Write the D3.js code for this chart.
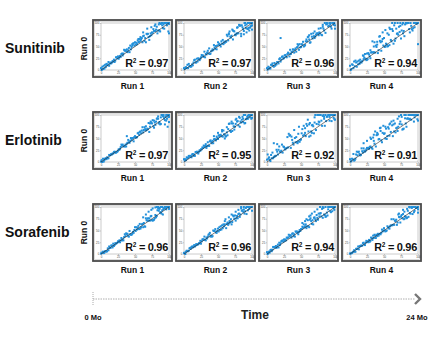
<!DOCTYPE html>
<html>
<head>
<meta charset="utf-8">
<script src="https://cdn.jsdelivr.net/npm/d3@7"></script>
<style>
  body { margin: 0; background: #fff; }
  svg { font-family: "Liberation Sans", Arial, sans-serif; }
</style>
</head>
<body>
<svg id="chart" width="435" height="340"></svg>
<script>
// Run-to-run reproducibility, three drugs x four repeat runs, each against Run 0

var drugs = ["Sunitinib", "Erlotinib", "Sorafenib"];
var runs = ["Run 1", "Run 2", "Run 3", "Run 4"];
var refRun = "Run 0";
var axisTicks = [0, 25, 50, 75, 100];
var timeLabels = [{ t: 0, label: "0 Mo" }, { t: 24, label: "24 Mo" }];
var timeTitle = "Time";

var r2Sunitinib = [0.97, 0.97, 0.96, 0.94];
var r2Erlotinib = [0.97, 0.95, 0.92, 0.91];
var r2Sorafenib = [0.96, 0.96, 0.94, 0.96];

// [run N value, run 0 value]
var sunitinibRun1 = [[0,4],[1,0],[2,7],[3,2],[4,9],[5,3],[6,11],[7,6],[8,13],[9,10],[10,12],[11,17],[12,9],[13,14],[14,16],[15,14],[16,16],[17,19],[18,18],[19,22],[20,17],[21,20],[22,27],[23,27],[24,25],[25,29],[26,24],[27,27],[28,30],[29,28],
  [30,34],[31,35],[32,31],[33,35],[34,43],[35,41],[36,42],[37,40],[38,44],[39,38],[40,42],[41,47],[42,38],[43,52],[44,44],[45,49],[46,55],[47,56],[48,57],[49,52],[50,59],[51,54],[52,58],[53,55],[54,63],[55,59],[56,60],[57,66],[58,62],[59,65],
  [60,68],[61,59],[62,72],[63,73],[64,62],[65,68],[66,59],[67,77],[68,76],[69,77],[70,70],[71,64],[72,72],[73,78],[74,74],[75,80],[76,79],[77,87],[78,83],[79,94],[80,83],[81,86],[82,92],[83,78],[84,84],[85,97],[86,84],[87,82],[88,98],[89,100],[90,95],[91,89],[92,97],[93,88],[94,100],[95,100],[96,99],[97,95],[98,100],[99,100],[100,98],
  [55,66],[62,80],[68,88],[74,91],[80,97],[86,100],[91,100],[97,100],[100,100],[99,82],[100,78],[46,52],[58,70]];
var sunitinibRun2 = [[0,4],[1,2],[2,5],[3,6],[4,4],[5,11],[6,4],[7,13],[8,8],[9,8],[10,7],[11,8],[12,12],[13,10],[14,16],[15,21],[16,22],[17,16],[18,16],[19,24],[20,18],[21,25],[22,23],[23,21],[24,24],[25,27],[26,32],[27,30],[28,31],[29,28],
  [30,39],[31,27],[32,34],[33,33],[34,37],[35,41],[36,35],[37,46],[38,34],[39,35],[40,40],[41,41],[42,44],[43,42],[44,53],[45,48],[46,45],[47,51],[48,44],[49,52],[50,59],[51,54],[52,56],[53,53],[54,50],[55,61],[56,56],[57,64],[58,55],[59,59],
  [60,58],[61,61],[62,60],[63,75],[64,72],[65,63],[66,76],[67,82],[68,71],[69,69],[70,73],[71,86],[72,65],[73,83],[74,82],[75,75],[76,74],[77,77],[78,78],[79,91],[80,78],[81,96],[82,94],[83,95],[84,77],[85,95],[86,91],[87,87],[88,83],[89,100],[90,95],[91,89],[92,97],[93,88],[94,87],[95,90],[96,100],[97,90],[98,93],[99,94],[100,100],
  [84,72],[88,76],[92,80],[96,84],[100,86],[98,100],[94,100],[90,100],[72,84],[78,90],[66,78],[100,95]];
var sunitinibRun3 = [[0,4],[1,1],[2,7],[3,3],[4,5],[5,3],[6,11],[7,11],[8,14],[9,9],[10,7],[11,15],[12,9],[13,12],[14,12],[15,17],[16,17],[17,14],[18,23],[19,25],[20,18],[21,22],[22,28],[23,29],[24,24],[25,26],[26,31],[27,32],[28,29],[29,27],
  [30,34],[31,37],[32,35],[33,29],[34,43],[35,34],[36,38],[37,39],[38,44],[39,43],[40,37],[41,43],[42,46],[43,39],[44,48],[45,49],[46,53],[47,43],[48,55],[49,48],[50,49],[51,55],[52,54],[53,60],[54,50],[55,51],[56,53],[57,61],[58,65],[59,61],
  [60,70],[61,71],[62,65],[63,58],[64,59],[65,77],[66,71],[67,67],[68,78],[69,72],[70,68],[71,71],[72,75],[73,78],[74,77],[75,78],[76,74],[77,80],[78,78],[79,89],[80,75],[81,74],[82,92],[83,88],[84,84],[85,100],[86,79],[87,97],[88,98],[89,99],[90,93],[91,94],[92,100],[93,100],[94,92],[95,88],[96,100],[97,100],[98,100],[99,100],[100,95],
  [20,68],[45,55],[70,82],[76,88],[82,96],[88,100],[93,97],[100,88],[98,96],[62,74]];
var sunitinibRun4 = [[0,9],[1,0],[2,2],[3,12],[4,11],[5,4],[6,18],[7,8],[8,20],[9,16],[10,7],[11,18],[12,12],[13,20],[14,13],[15,16],[16,17],[17,16],[18,19],[19,31],[20,23],[21,26],[22,34],[23,24],[24,21],[25,22],[26,23],[27,36],[28,33],[29,29],
  [30,25],[31,37],[32,38],[33,61],[34,37],[35,38],[36,59],[37,37],[38,52],[39,49],[40,54],[41,36],[42,42],[43,71],[44,62],[45,59],[46,41],[47,61],[48,66],[49,52],[50,68],[51,49],[52,50],[53,56],[54,54],[55,50],[56,51],[57,75],[58,53],[59,87],
  [60,64],[61,61],[62,87],[63,83],[64,56],[65,95],[66,62],[67,67],[68,88],[69,77],[70,78],[71,75],[72,92],[73,81],[74,94],[75,67],[76,84],[77,97],[78,78],[79,83],[80,72],[81,97],[82,100],[83,99],[84,100],[85,100],[86,100],[87,87],[88,80],[89,100],[90,94],[91,87],[92,84],[93,89],[94,100],[95,91],[96,100],[97,100],[98,98],[99,100],[100,100],
  [100,55],[40,60],[44,72],[48,80],[52,85],[55,78],[58,90],[62,100],[66,100],[70,100],[74,100],[78,100],[35,50],[30,42],[25,35],[20,30],[15,22]];

var erlotinibRun1 = [[0,1],[1,4],[2,0],[3,7],[4,1],[5,4],[6,7],[7,8],[8,6],[9,10],[10,8],[11,8],[12,15],[13,14],[14,15],[15,17],[16,16],[17,18],[18,18],[19,21],[20,22],[21,20],[22,20],[23,21],[24,22],[25,24],[26,27],[27,26],[28,28],[29,32],
  [30,37],[31,35],[32,37],[33,33],[34,34],[35,33],[36,37],[37,33],[38,39],[39,41],[40,47],[41,42],[42,41],[43,45],[44,51],[45,47],[46,50],[47,51],[48,44],[49,53],[50,55],[51,52],[52,52],[53,53],[54,61],[55,62],[56,58],[57,64],[58,65],[59,61],
  [60,67],[61,74],[62,63],[63,68],[64,74],[65,70],[66,67],[67,68],[68,71],[69,70],[70,83],[71,64],[72,75],[73,86],[74,84],[75,82],[76,89],[77,76],[78,73],[79,84],[80,79],[81,86],[82,92],[83,93],[84,97],[85,82],[86,85],[87,80],[88,81],[89,100],[90,100],[91,98],[92,100],[93,92],[94,89],[95,96],[96,100],[97,92],[98,100],[99,96],[100,100],
  [94,80],[98,75],[100,85],[96,88],[92,96],[88,95],[84,92],[78,88],[72,82],[66,76],[38,55],[100,96],[97,100]];
var erlotinibRun2 = [[0,6],[1,3],[2,6],[3,4],[4,10],[5,8],[6,9],[7,13],[8,11],[9,13],[10,13],[11,10],[12,16],[13,17],[14,13],[15,16],[16,13],[17,21],[18,21],[19,22],[20,20],[21,18],[22,22],[23,25],[24,24],[25,27],[26,27],[27,31],[28,30],[29,35],
  [30,32],[31,34],[32,38],[33,30],[34,34],[35,42],[36,35],[37,34],[38,44],[39,46],[40,43],[41,40],[42,45],[43,40],[44,48],[45,49],[46,48],[47,46],[48,54],[49,51],[50,49],[51,57],[52,54],[53,57],[54,58],[55,55],[56,65],[57,54],[58,67],[59,59],
  [60,58],[61,54],[62,55],[63,63],[64,57],[65,70],[66,81],[67,82],[68,66],[69,64],[70,82],[71,66],[72,82],[73,76],[74,69],[75,75],[76,81],[77,92],[78,86],[79,87],[80,78],[81,96],[82,75],[83,86],[84,84],[85,90],[86,96],[87,85],[88,100],[89,82],[90,83],[91,91],[92,92],[93,96],[94,92],[95,100],[96,100],[97,95],[98,100],[99,92],[100,100],
  [60,50],[50,62],[56,68],[63,74],[70,86],[76,90],[82,94],[87,92],[90,100],[94,98],[100,94],[44,55]];
var erlotinibRun3 = [[0,5],[1,16],[2,7],[3,10],[4,5],[5,2],[6,15],[7,8],[8,20],[9,8],[10,11],[11,11],[12,13],[13,13],[14,26],[15,22],[16,16],[17,26],[18,33],[19,22],[20,21],[21,24],[22,37],[23,20],[24,33],[25,32],[26,27],[27,27],[28,29],[29,30],
  [30,53],[31,31],[32,60],[33,56],[34,57],[35,30],[36,54],[37,47],[38,41],[39,37],[40,68],[41,51],[42,42],[43,53],[44,42],[45,40],[46,44],[47,75],[48,43],[49,47],[50,48],[51,61],[52,70],[53,56],[54,77],[55,58],[56,62],[57,55],[58,81],[59,77],
  [60,90],[61,65],[62,54],[63,83],[64,56],[65,65],[66,62],[67,79],[68,76],[69,61],[70,95],[71,100],[72,68],[73,81],[74,100],[75,100],[76,80],[77,85],[78,100],[79,100],[80,88],[81,77],[82,98],[83,100],[84,96],[85,77],[86,100],[87,87],[88,96],[89,97],[90,100],[91,100],[92,88],[93,100],[94,100],[95,87],[96,100],[97,100],[98,100],[99,91],[100,100],
  [10,40],[15,38],[46,60],[56,72],[66,78],[70,84],[76,86],[84,92],[92,96],[98,94],[100,90],[62,80]];
var erlotinibRun4 = [[0,6],[1,1],[2,2],[3,7],[4,6],[5,17],[6,3],[7,4],[8,7],[9,16],[10,22],[11,14],[12,21],[13,22],[14,17],[15,14],[16,15],[17,29],[18,23],[19,20],[20,29],[21,24],[22,22],[23,24],[24,27],[25,30],[26,29],[27,30],[28,28],[29,32],
  [30,33],[31,49],[32,30],[33,28],[34,52],[35,45],[36,39],[37,65],[38,33],[39,57],[40,58],[41,59],[42,48],[43,49],[44,72],[45,73],[46,46],[47,42],[48,62],[49,77],[50,60],[51,61],[52,50],[53,71],[54,49],[55,55],[56,74],[57,71],[58,56],[59,82],
  [60,64],[61,86],[62,78],[63,55],[64,80],[65,65],[66,82],[67,63],[68,72],[69,73],[70,66],[71,75],[72,97],[73,81],[74,86],[75,100],[76,80],[77,69],[78,70],[79,71],[80,100],[81,93],[82,82],[83,75],[84,92],[85,93],[86,100],[87,91],[88,92],[89,100],[90,90],[91,100],[92,100],[93,100],[94,86],[95,95],[96,100],[97,100],[98,100],[99,91],[100,100],
  [20,40],[25,45],[30,52],[35,58],[40,62],[45,66],[52,75],[58,80],[64,88],[70,92],[76,96],[82,100],[88,100],[94,100],[100,88]];

var sorafenibRun1 = [[0,1],[1,3],[2,2],[3,5],[4,2],[5,3],[6,6],[7,6],[8,5],[9,6],[10,12],[11,8],[12,16],[13,13],[14,13],[15,18],[16,18],[17,14],[18,22],[19,17],[20,19],[21,23],[22,22],[23,23],[24,24],[25,27],[26,26],[27,29],[28,25],[29,29],
  [30,34],[31,29],[32,31],[33,29],[34,36],[35,42],[36,38],[37,44],[38,42],[39,43],[40,38],[41,37],[42,49],[43,42],[44,41],[45,41],[46,43],[47,47],[48,45],[49,51],[50,57],[51,49],[52,57],[53,52],[54,56],[55,60],[56,53],[57,64],[58,54],[59,57],
  [60,63],[61,64],[62,57],[63,66],[64,59],[65,58],[66,76],[67,72],[68,71],[69,76],[70,71],[71,76],[72,71],[73,80],[74,81],[75,72],[76,71],[77,72],[78,73],[79,76],[80,83],[81,78],[82,81],[83,93],[84,97],[85,92],[86,96],[87,88],[88,89],[89,86],[90,93],[91,84],[92,95],[93,98],[94,100],[95,98],[96,95],[97,100],[98,100],[99,100],[100,100],
  [70,90],[74,94],[76,97],[80,99],[82,100],[84,100],[86,98],[88,100],[90,100],[92,97],[66,84],[62,78],[96,100],[100,96]];
var sorafenibRun2 = [[0,2],[1,3],[2,0],[3,5],[4,7],[5,6],[6,6],[7,7],[8,12],[9,13],[10,11],[11,15],[12,16],[13,14],[14,16],[15,19],[16,16],[17,18],[18,21],[19,20],[20,20],[21,21],[22,23],[23,23],[24,28],[25,22],[26,27],[27,31],[28,31],[29,31],
  [30,37],[31,30],[32,29],[33,35],[34,33],[35,37],[36,41],[37,42],[38,45],[39,37],[40,39],[41,37],[42,38],[43,50],[44,49],[45,49],[46,53],[47,46],[48,45],[49,49],[50,54],[51,48],[52,57],[53,51],[54,59],[55,52],[56,61],[57,55],[58,63],[59,59],
  [60,63],[61,74],[62,55],[63,64],[64,67],[65,62],[66,65],[67,70],[68,67],[69,74],[70,63],[71,68],[72,82],[73,80],[74,75],[75,82],[76,71],[77,76],[78,81],[79,76],[80,85],[81,86],[82,79],[83,84],[84,97],[85,92],[86,93],[87,90],[88,95],[89,86],[90,91],[91,98],[92,85],[93,100],[94,93],[95,100],[96,100],[97,100],[98,100],[99,100],[100,100],
  [76,90],[80,94],[84,100],[88,100],[92,100],[96,96],[100,92],[70,84],[66,78],[60,70]];
var sorafenibRun3 = [[0,4],[1,0],[2,2],[3,5],[4,3],[5,8],[6,9],[7,6],[8,9],[9,15],[10,14],[11,15],[12,14],[13,17],[14,13],[15,16],[16,20],[17,14],[18,24],[19,19],[20,23],[21,27],[22,28],[23,29],[24,26],[25,31],[26,28],[27,31],[28,29],[29,35],
  [30,34],[31,35],[32,41],[33,37],[34,40],[35,39],[36,35],[37,43],[38,44],[39,38],[40,42],[41,37],[42,48],[43,47],[44,48],[45,45],[46,42],[47,47],[48,51],[49,49],[50,53],[51,53],[52,58],[53,56],[54,63],[55,57],[56,59],[57,63],[58,55],[59,59],
  [60,72],[61,59],[62,57],[63,73],[64,76],[65,70],[66,64],[67,72],[68,63],[69,77],[70,78],[71,74],[72,70],[73,83],[74,77],[75,73],[76,86],[77,80],[78,86],[79,87],[80,80],[81,96],[82,77],[83,98],[84,84],[85,83],[86,79],[87,80],[88,88],[89,82],[90,95],[91,100],[92,100],[93,91],[94,89],[95,100],[96,91],[97,100],[98,100],[99,94],[100,100],
  [52,66],[58,74],[62,80],[66,86],[70,90],[74,95],[78,100],[82,100],[86,100],[90,100],[94,100],[98,97],[56,70],[64,82]];
var sorafenibRun4 = [[0,1],[1,1],[2,2],[3,2],[4,4],[5,5],[6,8],[7,5],[8,5],[9,11],[10,11],[11,11],[12,16],[13,10],[14,16],[15,17],[16,18],[17,17],[18,18],[19,23],[20,24],[21,20],[22,19],[23,24],[24,28],[25,26],[26,27],[27,25],[28,30],[29,26],
  [30,28],[31,35],[32,34],[33,30],[34,39],[35,34],[36,41],[37,39],[38,34],[39,41],[40,38],[41,43],[42,39],[43,42],[44,43],[45,42],[46,45],[47,52],[48,48],[49,50],[50,55],[51,50],[52,48],[53,49],[54,50],[55,59],[56,57],[57,55],[58,54],[59,59],
  [60,61],[61,74],[62,61],[63,62],[64,74],[65,62],[66,71],[67,70],[68,73],[69,62],[70,67],[71,84],[72,79],[73,78],[74,67],[75,80],[76,83],[77,76],[78,85],[79,74],[80,75],[81,80],[82,79],[83,76],[84,77],[85,92],[86,79],[87,100],[88,87],[89,86],[90,100],[91,98],[92,85],[93,100],[94,89],[95,92],[96,100],[97,98],[98,99],[99,98],[100,100],
  [78,94],[84,96],[88,99],[92,100],[96,100],[100,95],[80,90],[72,86],[100,88],[95,100]];

var panelData = [
  [sunitinibRun1, sunitinibRun2, sunitinibRun3, sunitinibRun4],
  [erlotinibRun1, erlotinibRun2, erlotinibRun3, erlotinibRun4],
  [sorafenibRun1, sorafenibRun2, sorafenibRun3, sorafenibRun4]
];
var panelR2 = [r2Sunitinib, r2Erlotinib, r2Sorafenib];

// layout
var gridLeft = 93, panelW = 79, panelGap = 4, panelH = 57;
var rowTops = [20, 112, 204];
var inner = { left: 8, right: 3, top: 3, bottom: 7 };
var dotColor = "#2290da", dotSize = 2;

var svg = d3.select("#chart");

drugs.forEach(function (drug, ri) {
  var top = rowTops[ri];

  svg.append("text")
     .attr("x", 5)
     .attr("y", top + 33)
     .attr("font-size", 14)
     .attr("font-weight", "bold")
     .attr("fill", "#111")
     .text(drug);

  svg.append("text")
     .attr("transform", "translate(87," + (top + panelH / 2) + ") rotate(-90)")
     .attr("text-anchor", "middle")
     .attr("font-size", 8.5)
     .attr("font-weight", "bold")
     .attr("fill", "#111")
     .text(refRun);

  runs.forEach(function (run, ci) {
    var left = gridLeft + ci * (panelW + panelGap);
    var x = d3.scaleLinear().domain([0, 100]).range([left + inner.left, left + panelW - inner.right]);
    var y = d3.scaleLinear().domain([0, 100]).range([top + panelH - inner.bottom, top + inner.top]);
    var g = svg.append("g");

    // framed panel
    g.append("rect")
     .attr("x", left).attr("y", top)
     .attr("width", panelW).attr("height", panelH)
     .attr("fill", "#fff")
     .attr("stroke", "#4a4a4a")
     .attr("stroke-width", 1.8);
    g.append("rect")
     .attr("x", left + 1.6).attr("y", top + 1.6)
     .attr("width", panelW - 3.2).attr("height", panelH - 3.2)
     .attr("fill", "none")
     .attr("stroke", "#bbb")
     .attr("stroke-width", 0.5);

    // plot box
    g.append("rect")
     .attr("x", x(0)).attr("y", y(100))
     .attr("width", x(100) - x(0)).attr("height", y(0) - y(100))
     .attr("fill", "none")
     .attr("stroke", "#999")
     .attr("stroke-width", 0.5);

    var ax = g.append("g")
      .attr("transform", "translate(0," + y(0) + ")")
      .call(d3.axisBottom(x).tickValues(axisTicks).tickSize(1.2).tickPadding(0.6));
    var ay = g.append("g")
      .attr("transform", "translate(" + x(0) + ",0)")
      .call(d3.axisLeft(y).tickValues(axisTicks).tickSize(1.2).tickPadding(0.6));
    [ax, ay].forEach(function (a) {
      a.select(".domain").remove();
      a.selectAll("line").attr("stroke", "#888").attr("stroke-width", 0.4);
      a.selectAll("text").attr("font-size", 2.8).attr("fill", "#444").attr("font-family", "Liberation Sans, Arial, sans-serif");
    });

    g.selectAll("rect.dot")
     .data(panelData[ri][ci])
     .enter().append("rect")
     .attr("class", "dot")
     .attr("x", function (d) { return x(d[0]) - dotSize / 2; })
     .attr("y", function (d) { return y(d[1]) - dotSize / 2; })
     .attr("width", dotSize).attr("height", dotSize)
     .attr("fill", dotColor);

    // identity line
    g.append("line")
     .attr("x1", x(0)).attr("y1", y(0))
     .attr("x2", x(100)).attr("y2", y(100))
     .attr("stroke", "#222")
     .attr("stroke-width", 0.6);

    var r2 = g.append("text")
     .attr("x", x(100) - 1)
     .attr("y", y(0) - 3)
     .attr("text-anchor", "end")
     .attr("font-size", 11)
     .attr("font-weight", "bold")
     .attr("letter-spacing", -0.3)
     .attr("fill", "#111")
     .attr("stroke", "#fff")
     .attr("stroke-width", 1.5)
     .attr("paint-order", "stroke");
    r2.append("tspan").text("R");
    r2.append("tspan").attr("font-size", 6.5).attr("dy", -4).text("2");
    r2.append("tspan").attr("dy", 4).text(" = " + panelR2[ri][ci].toFixed(2));

    svg.append("text")
       .attr("x", left + panelW / 2)
       .attr("y", top + panelH + 12)
       .attr("text-anchor", "middle")
       .attr("font-size", 8.5)
       .attr("font-weight", "bold")
       .attr("fill", "#111")
       .text(run);
  });
});

// time axis
var t = d3.scaleLinear().domain([0, 24]).range([93, 417]);
var axisY = 299;

svg.append("line")
   .attr("x1", t(0)).attr("y1", axisY)
   .attr("x2", t(24) - 2).attr("y2", axisY)
   .attr("stroke", "#999")
   .attr("stroke-width", 0.8)
   .attr("stroke-dasharray", "1.5,1");
svg.append("line")
   .attr("x1", t(0)).attr("y1", axisY - 7)
   .attr("x2", t(0)).attr("y2", axisY + 7)
   .attr("stroke", "#aaa")
   .attr("stroke-width", 1)
   .attr("stroke-dasharray", "1,1");
svg.append("path")
   .attr("d", "M" + (t(24) - 2) + "," + (axisY - 5) + " L" + (t(24) + 3) + "," + axisY + " L" + (t(24) - 2) + "," + (axisY + 5))
   .attr("fill", "none")
   .attr("stroke", "#777")
   .attr("stroke-width", 2.4);

svg.selectAll("text.tlabel")
   .data(timeLabels)
   .enter().append("text")
   .attr("class", "tlabel")
   .attr("x", function (d) { return t(d.t); })
   .attr("y", 320)
   .attr("text-anchor", "middle")
   .attr("font-size", 7.5)
   .attr("font-weight", "bold")
   .attr("fill", "#111")
   .text(function (d) { return d.label; });

svg.append("text")
   .attr("x", t(12))
   .attr("y", 319)
   .attr("text-anchor", "middle")
   .attr("font-size", 12)
   .attr("font-weight", "bold")
   .attr("fill", "#222")
   .text(timeTitle);
</script>
</body>
</html>
